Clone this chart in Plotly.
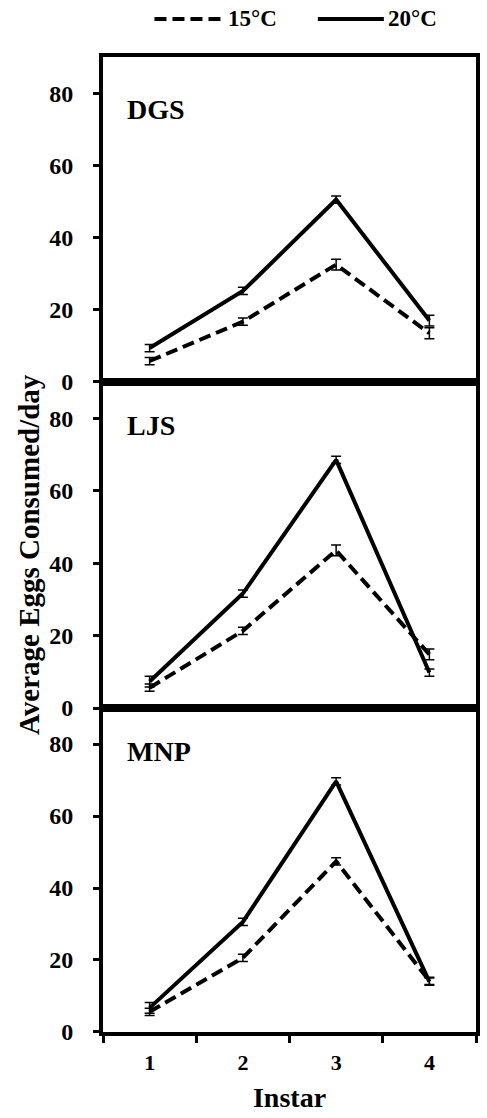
import plotly.graph_objects as go
from plotly.subplots import make_subplots

instar = ["1", "2", "3", "4"]
sites = ["DGS", "LJS", "MNP"]
series_names = ["15°C", "20°C"]

dgs_15 = [5.8, 16.7, 32.5, 13.5]
dgs_15_err = [1.0, 1.0, 1.5, 1.5]
dgs_20 = [9.4, 25.2, 50.5, 17.0]
dgs_20_err = [1.0, 1.0, 1.0, 1.5]

ljs_15 = [5.6, 21.3, 43.5, 14.8]
ljs_15_err = [1.0, 1.0, 1.5, 1.5]
ljs_20 = [7.3, 31.6, 68.5, 9.8]
ljs_20_err = [1.5, 1.0, 1.0, 1.0]

mnp_15 = [5.6, 20.6, 47.4, 14.2]
mnp_15_err = [1.0, 1.0, 1.0, 1.0]
mnp_20 = [6.7, 30.6, 69.6, 14.0]
mnp_20_err = [1.5, 1.0, 1.0, 1.0]

y_ticks = [0, 20, 40, 60, 80]

data15 = [(dgs_15, dgs_15_err), (ljs_15, ljs_15_err), (mnp_15, mnp_15_err)]
data20 = [(dgs_20, dgs_20_err), (ljs_20, ljs_20_err), (mnp_20, mnp_20_err)]

FONT = "Liberation Serif"
DASH = "12px,6px"

fig = make_subplots(rows=3, cols=1, shared_xaxes=True, vertical_spacing=0)

for i in range(3):
    y15, e15 = data15[i]
    y20, e20 = data20[i]
    fig.add_trace(go.Scatter(
        x=instar, y=y15, mode="lines", name=series_names[0],
        line=dict(color="black", width=4, dash=DASH),
        error_y=dict(type="data", array=e15, visible=True, color="black",
                     thickness=1.5, width=5),
        showlegend=False), row=i + 1, col=1)
    fig.add_trace(go.Scatter(
        x=instar, y=y20, mode="lines", name=series_names[1],
        line=dict(color="black", width=4),
        error_y=dict(type="data", array=e20, visible=True, color="black",
                     thickness=1.5, width=5),
        showlegend=False), row=i + 1, col=1)

doms = [[0.6667, 1.0], [0.3323, 0.6667], [0.0, 0.3323]]
for i in range(3):
    n = "" if i == 0 else str(i + 1)
    fig.layout["yaxis" + n].update(
        domain=doms[i], range=[0, 90], tickvals=y_ticks,
        showline=True, linecolor="black", linewidth=4, mirror=True,
        ticks="outside", ticklen=6, tickwidth=3, tickcolor="black",
        ticklabelstandoff=15,
        showgrid=False, zeroline=False,
        tickfont=dict(family=FONT, size=24, color="black", weight="bold"))
    fig.layout["xaxis" + n].update(
        type="category", range=[-0.5, 3.5],
        showline=True, linecolor="black", linewidth=4, mirror=True,
        showgrid=False, zeroline=False,
        ticks="outside" if i == 2 else "", tickson="boundaries",
        ticklen=7, tickwidth=3, tickcolor="black",
        ticklabelstandoff=8,
        showticklabels=(i == 2),
        tickfont=dict(family=FONT, size=22, color="black", weight="bold"))

fig.layout.xaxis3.title = dict(text="<b>Instar</b>", font=dict(family=FONT, size=28, color="black"), standoff=14)

label_y = [75.5, 78, 78]
for i, s in enumerate(sites):
    n = "" if i == 0 else str(i + 1)
    fig.add_annotation(text="<b>" + s + "</b>", xref="paper", yref="y" + n,
                       x=0.058, y=label_y[i], xanchor="left", yanchor="middle",
                       showarrow=False, font=dict(family=FONT, size=28, color="black"))

fig.add_annotation(text="<b>Average Eggs Consumed/day</b>", xref="paper", yref="paper",
                   x=-0.199, y=0.49, textangle=-90, showarrow=False,
                   xanchor="center", yanchor="middle",
                   font=dict(family=FONT, size=29, color="black"))

# legend drawn manually to match long line samples
leg_y = 1.039
fig.add_shape(type="line", xref="paper", yref="paper", x0=0.138, x1=0.318, y0=leg_y, y1=leg_y,
              line=dict(color="black", width=4, dash=DASH))
fig.add_annotation(text="<b>" + series_names[0] + "</b>", xref="paper", yref="paper",
                   x=0.330, y=leg_y, xanchor="left", yanchor="middle", showarrow=False,
                   font=dict(family=FONT, size=23, color="black"))
fig.add_shape(type="line", xref="paper", yref="paper", x0=0.576, x1=0.753, y0=leg_y, y1=leg_y,
              line=dict(color="black", width=4))
fig.add_annotation(text="<b>" + series_names[1] + "</b>", xref="paper", yref="paper",
                   x=0.759, y=leg_y, xanchor="left", yanchor="middle", showarrow=False,
                   font=dict(family=FONT, size=23, color="black"))

fig.update_layout(
    width=487, height=1118,
    margin=dict(l=103, r=7, t=57, b=86),
    paper_bgcolor="white", plot_bgcolor="white",
    font=dict(family=FONT, color="black"),
    showlegend=False,
)

fig.write_html("out.html")
